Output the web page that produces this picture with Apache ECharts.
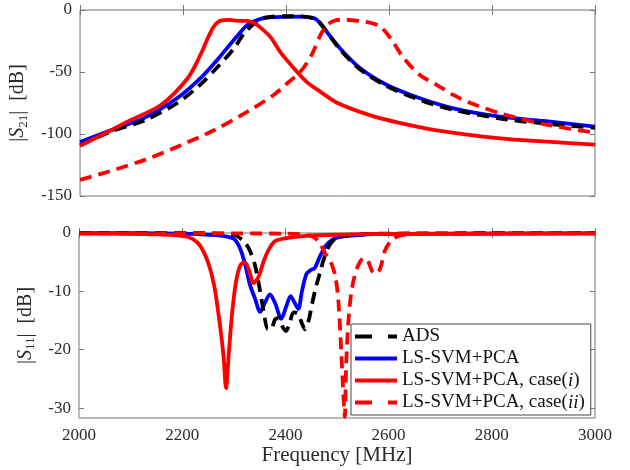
<!DOCTYPE html>
<html><head><meta charset="utf-8">
<script src="https://cdn.jsdelivr.net/npm/echarts@6/dist/echarts.min.js"></script>
<style>html,body{margin:0;padding:0;background:#fff}#c{width:630px;height:470px}</style>
</head><body><div id="c"></div><script>
// ---------- data ----------
const seriesNames = ['ADS', 'LS-SVM+PCA', 'LS-SVM+PCA, case(i)', 'LS-SVM+PCA, case(ii)'];
const xTicks = [2000, 2200, 2400, 2600, 2800, 3000];
const s21Ticks = [-150, -100, -50, 0];
const s11Ticks = [-30, -20, -10, 0];

// |S21| (top)
const s21AdsF = [2000, 2060, 2125, 2189, 2234, 2267, 2299, 2318, 2338, 2351, 2370, 2400, 2430, 2455, 2465, 2480, 2505, 2544, 2596, 2660, 2725, 2816, 2900, 3000];
const s21AdsV = [-109, -98, -89, -75, -60, -46, -31, -19, -11, -7, -5.5, -5, -5.2, -7, -10, -18, -32, -48, -61.5, -72.5, -80.5, -87.5, -91.5, -95];
const s21SvmF = [2000, 2060, 2125, 2189, 2234, 2267, 2299, 2325, 2344, 2364, 2389, 2428, 2450, 2460, 2479, 2505, 2544, 2596, 2660, 2725, 2815, 2900, 3000];
const s21SvmV = [-106.5, -97, -87, -71, -55, -40, -24, -12, -8, -6.2, -5.5, -5.3, -6.2, -8, -17.5, -31, -47, -60.5, -71.2, -79.3, -86, -89.5, -94];
const s21CaseIF = [2000, 2060, 2092, 2157, 2209, 2234, 2250, 2262, 2275, 2290, 2305, 2325, 2338, 2350, 2370, 2389, 2409, 2440, 2467, 2500, 2564, 2620, 2693, 2816, 2900, 3000];
const s21CaseIV = [-109.5, -97, -90, -76.6, -55, -36, -21, -12, -8.3, -8, -8.7, -8.8, -10.5, -14, -22, -34, -44, -58, -66, -75, -85, -91, -97, -103.5, -106, -108.5];
const s21CaseIIF = [2000, 2066, 2131, 2196, 2260, 2325, 2376, 2400, 2428, 2450, 2467, 2480, 2495, 2512, 2544, 2565, 2583, 2603, 2629, 2660, 2693, 2725, 2758, 2816, 2900, 3000];
const s21CaseIIV = [-137, -129, -120, -109, -97, -82, -68.5, -60, -49.7, -36, -20, -12, -8.5, -7.8, -9, -10.5, -13.4, -22.8, -39, -52.4, -60.5, -68.5, -75, -83.3, -92, -99];

// |S11| (bottom)
const s11AdsF = [2000, 2250, 2300, 2320, 2331, 2341, 2350, 2358, 2366, 2372, 2380, 2387, 2394, 2401, 2408, 2416, 2424, 2432, 2438, 2445, 2452, 2460, 2468, 2475, 2486, 2500, 2530, 2600, 3000];
const s11AdsV = [0, -0.05, -0.3, -1.5, -3, -5.5, -9.5, -13.5, -16.5, -16.5, -14.8, -14.6, -16, -16.8, -15.5, -13.6, -13.8, -15.5, -16.5, -15, -12, -9, -6.5, -4.3, -2, -0.8, -0.3, -0.1, 0];
const s11SvmF = [2000, 2200, 2250, 2280, 2300, 2312, 2322, 2331, 2341, 2351, 2360, 2370, 2380, 2392, 2402, 2410, 2418, 2425, 2432, 2441, 2450, 2457, 2467, 2480, 2500, 2550, 2600, 3000];
const s11SvmV = [-0.02, -0.1, -0.3, -0.5, -1, -2.6, -5.4, -8.8, -11.2, -13.5, -12, -10.5, -12, -14.7, -12.5, -10.8, -12, -13, -10, -7, -6.3, -6, -4, -2, -0.8, -0.3, -0.15, -0.05];
const s11CaseIF = [2000, 2100, 2150, 2200, 2220, 2235, 2250, 2262, 2272, 2280, 2285, 2290, 2297, 2305, 2313, 2321, 2330, 2338, 2348, 2358, 2368, 2380, 2400, 2440, 2500, 2600, 3000];
const s11CaseIV = [-0.1, -0.15, -0.25, -0.5, -1, -2.2, -5, -9, -15, -21, -26.6, -21, -13.5, -8, -5.5, -5, -6.5, -8.6, -7.5, -4.8, -2.8, -1.4, -0.9, -0.5, -0.3, -0.15, -0.05];
const s11CaseIIF = [2000, 2400, 2450, 2465, 2477, 2488, 2497, 2503, 2508, 2512, 2515, 2518, 2523, 2530, 2540, 2552, 2560, 2568, 2576, 2584, 2593, 2605, 2620, 2650, 3000];
const s11CaseIIV = [-0.05, -0.1, -0.5, -1.5, -3.5, -5, -7.5, -12, -20, -27, -31.5, -22, -14, -9, -5.8, -4.3, -4.8, -6.5, -7, -6, -3, -1.3, -0.5, -0.2, -0.05];

// ---------- chart ----------
const zip = (f, v) => f.map((x, i) => [x, v[i]]);
const FONT = 'Liberation Serif';
const BOX = '#777';
const TXT = '#2b2b2b';
const colors = ['#000000', '#0000ff', '#ff0000', '#ff0000'];
const dashes = ['dashed', 'solid', 'solid', 'dashed'];
const dashPattern = [12, 7];
const LW = 3.8;
const topData = [zip(s21AdsF, s21AdsV), zip(s21SvmF, s21SvmV), zip(s21CaseIF, s21CaseIV), zip(s21CaseIIF, s21CaseIIV)];
const botData = [zip(s11AdsF, s11AdsV), zip(s11SvmF, s11SvmV), zip(s11CaseIF, s11CaseIV), zip(s11CaseIIF, s11CaseIIV)];
const drawOrder = [1, 0, 2, 3];

function mkSeries(data, xi, yi) {
  return drawOrder.map(k => ({
    name: seriesNames[k], type: 'line', xAxisIndex: xi, yAxisIndex: yi,
    data: data[k], showSymbol: false, symbol: 'none', smooth: 0.3,
    lineStyle: { color: colors[k], width: LW, type: dashes[k] === 'dashed' ? dashPattern : 'solid' },
    itemStyle: { color: colors[k] }, animation: false
  }));
}

const tickStyle = { show: true, inside: true, length: 5, lineStyle: { color: BOX, width: 1 } };
const lblStyle = { fontFamily: FONT, fontSize: 17, color: TXT };

function xAx(grid, pos, labels) {
  return {
    type: 'value', gridIndex: grid, position: pos, min: 2000, max: 3000, interval: 200,
    axisLine: { show: false }, axisTick: tickStyle, splitLine: { show: false },
    axisLabel: Object.assign({ show: labels, margin: 9, formatter: v => String(v) }, lblStyle),
    name: labels ? 'Frequency [MHz]' : '', nameLocation: 'middle', nameGap: 23,
    nameTextStyle: { fontFamily: FONT, fontSize: 21, color: TXT }
  };
}
function yAx(grid, pos, min, ticks, name, gap) {
  return {
    type: 'value', gridIndex: grid, position: pos, min: min, max: 0,
    axisLine: { show: false }, splitLine: { show: false },
    axisTick: Object.assign({ customValues: ticks }, tickStyle),
    axisLabel: Object.assign({ show: pos === 'left', margin: 8, customValues: ticks, formatter: v => String(v) }, lblStyle),
    name: pos === 'left' ? name : '', nameLocation: 'middle', nameGap: gap, nameRotate: 90,
    nameTextStyle: {
      fontFamily: FONT, fontSize: 20, color: TXT,
      rich: {
        n: { fontFamily: FONT, fontSize: 20, color: TXT, lineHeight: 24 },
        it: { fontFamily: FONT, fontSize: 20, fontStyle: 'italic', color: TXT, lineHeight: 24 },
        sub: { fontFamily: FONT, fontSize: 13, color: TXT, verticalAlign: 'bottom' }
      }
    }
  };
}

const iconSolid = 'path://M0,0h42v4h-42z';
const iconDash = 'path://M0,0h17v4h-17z M33,0h9v4h-9z';

const chart = echarts.init(document.getElementById('c'), null, { renderer: 'canvas' });
chart.setOption({
  animation: false,
  backgroundColor: '#fff',
  grid: [
    { left: 79, right: 35, top: 10, height: 186, show: true, borderColor: BOX, borderWidth: 1, backgroundColor: 'transparent' },
    { left: 79, right: 35, top: 233, height: 185, show: true, borderColor: BOX, borderWidth: 1, backgroundColor: 'transparent' }
  ],
  xAxis: [xAx(0, 'bottom', false), xAx(1, 'bottom', true), xAx(0, 'top', false), xAx(1, 'top', false)],
  yAxis: [
    yAx(0, 'left', -150, s21Ticks, '{n||}{it|S}{sub|21}{n||\u2002[dB]}', 45),
    yAx(1, 'left', -31.7, s11Ticks, '{n||}{it|S}{sub|11}{n||\u2002[dB]}', 37),
    yAx(0, 'right', -150, s21Ticks, '', 0),
    yAx(1, 'right', -31.7, s11Ticks, '', 0)
  ],
  legend: {
    orient: 'vertical', left: 351, top: 324,
    data: seriesNames.map((n, k) => ({ name: n, icon: dashes[k] === 'dashed' ? iconDash : iconSolid })),
    itemWidth: 42, itemHeight: 4, itemGap: 3, padding: [3, 6, 3, 4],
    backgroundColor: '#fff', borderColor: '#444', borderWidth: 1, borderRadius: 0,
    formatter: function (name) {
      if (name === 'LS-SVM+PCA, case(i)') return '{a|LS-SVM+PCA, case(}{i|i}{a|)}';
      if (name === 'LS-SVM+PCA, case(ii)') return '{a|LS-SVM+PCA, case(}{i|ii}{a|)}';
      return '{a|' + name + '}';
    },
    textStyle: {
      fontFamily: FONT, fontSize: 19, color: '#111', lineHeight: 19,
      rich: {
        a: { fontFamily: FONT, fontSize: 19, color: '#111', lineHeight: 19 },
        i: { fontFamily: FONT, fontSize: 19, color: '#111', fontStyle: 'italic', lineHeight: 19 }
      }
    }
  },
  series: mkSeries(topData, 0, 0).concat(mkSeries(botData, 1, 1))
});
</script></body></html>
